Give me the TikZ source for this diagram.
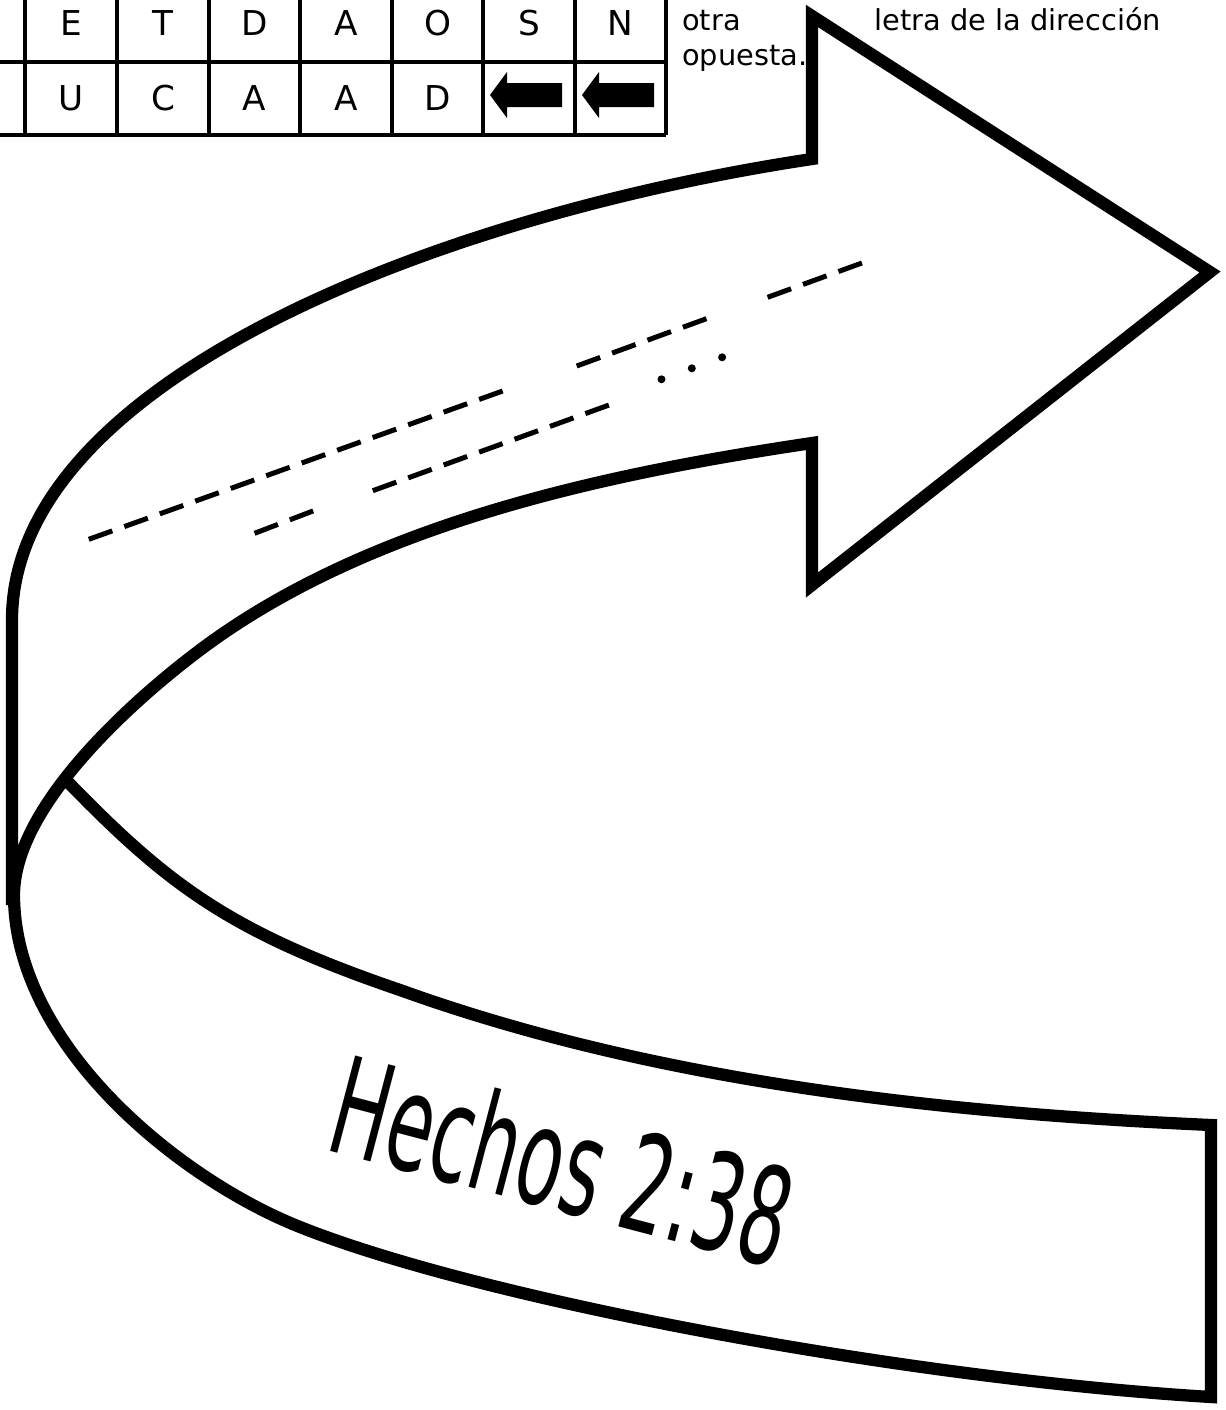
\documentclass[tikz,border=0pt]{standalone}
\usepackage{fontspec}
\setmainfont{DejaVu Sans}
\usepackage{tikz}

\tikzset{
	ribbon/.style={line width=2.45mm, line join=miter},
	cell/.style={line width=0.7mm},
	guide/.style={line width=1mm, dash pattern=on 5mm off 2.54mm},
	letter/.style={anchor=base, inner sep=0, font=\fontsize{19.5}{23}\selectfont},
	note/.style={anchor=base west, inner sep=0, font=\fontsize{16.4}{20}\selectfont}
}

\begin{document}
\begin{tikzpicture}[x=0.02cm, y=-0.02cm]
				\useasboundingbox (0,0) rectangle (1225,1410);
				
				% letter grid
				\draw[cell] (0,62) -- (666,62);
				\draw[cell] (0,135) -- (666,135);
				\draw[cell] (25,0) -- (25,135);
				\draw[cell] (117,0) -- (117,135);
				\draw[cell] (209,0) -- (209,135);
				\draw[cell] (300,0) -- (300,135);
				\draw[cell] (392,0) -- (392,135);
				\draw[cell] (483,0) -- (483,135);
				\draw[cell] (575,0) -- (575,135);
				\draw[cell] (666,0) -- (666,135);
				
				\node[letter] (t1) at (71,35) {E};
				\node[letter] (t2) at (163,35) {T};
				\node[letter] (t3) at (254.5,35) {D};
				\node[letter] (t4) at (346,35) {A};
				\node[letter] (t5) at (437.5,35) {O};
				\node[letter] (t6) at (529,35) {S};
				\node[letter] (t7) at (620.5,35) {N};
				
				\node[letter] (b1) at (71,110) {U};
				\node[letter] (b2) at (163,110) {C};
				\node[letter] (b3) at (254.5,110) {A};
				\node[letter] (b4) at (346,110) {A};
				\node[letter] (b5) at (437.5,110) {D};
				
				\fill (490,95) -- (507,72) -- (507,83) -- (562,83) -- (562,107) -- (507,107) -- (507,118) -- cycle;
				\fill (582,95) -- (599,72) -- (599,83) -- (654,83) -- (654,107) -- (599,107) -- (599,118) -- cycle;
				
				\node[note] (otra) at (682,30) {otra};
				\node[note] (opuesta) at (682,65) {opuesta.};
				\node[note] (letra) at (874,30) {letra de la dirección};
				
				% big curved arrow
				\draw[ribbon] (12,905) -- (12,620) .. controls (12,380) and (440,215) .. (812,159)
					-- (812,16) -- (1210,272) -- (812,585) -- (812,443)
					.. controls (604,474) and (368,524) .. (200,650)
					.. controls (136,698) and (14,805) .. (14,895)
					.. controls (14,1045) and (179,1179) .. (300,1227)
					.. controls (486,1301) and (911,1379) .. (1211,1397)
					-- (1211,1125)
					.. controls (941,1113) and (656,1082) .. (400,990)
					.. controls (230,932) and (168,885) .. (67,781);
				
				% blanks to fill in
				\draw[guide] (88.8,539.3) -- (503.5,390.7);
				\draw[guide] (254.6,533.3) -- (313.7,510.7);
				\draw[guide] (372.8,490.7) -- (611.8,404);
				\draw[guide] (576.7,366) -- (707.5,318.3);
				\draw[guide] (767.6,297.3) -- (862.8,262.7);
				\fill (661.5,379.3) circle (4);
				\fill (691.8,368.3) circle (4);
				\fill (722.1,357.3) circle (4);
				
				\node[rotate=-14.7, xscale=0.554, font=\fontsize{77}{80}\selectfont] (hechos) at (563,1160) {Hechos 2:38};
			\end{tikzpicture}
\end{document}
